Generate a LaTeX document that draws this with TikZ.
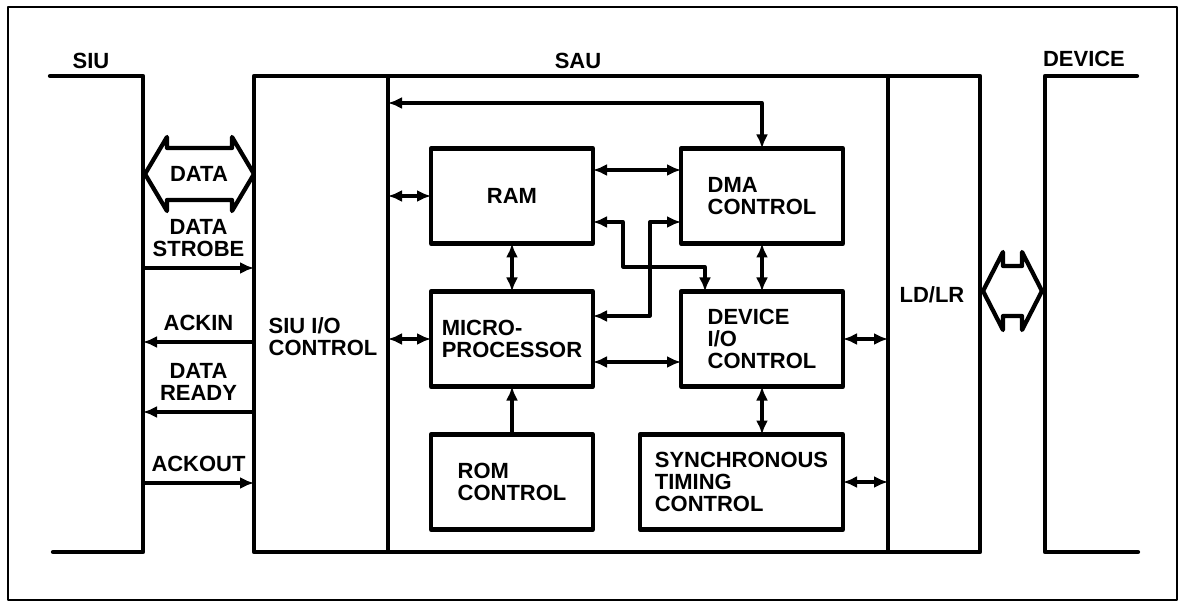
\documentclass[tikz,border=0pt]{standalone}
\usepackage{fontspec}
\setmainfont{Liberation Sans}
\usetikzlibrary{%
  arrows.meta,%
  positioning% wg. " of "
}

\begin{document}
\begin{tikzpicture}[
    x=0.2mm,y=-0.2mm,
    >={Latex[length=2.8mm,width=2.4mm]},
    line join=round,line cap=round,
    font=\fontsize{12.5}{12.5}\selectfont\bfseries,
    frame/.style={line width=0.85mm},
    column/.style={rectangle,draw,frame,inner sep=0pt,outer sep=0pt,
        minimum height=95.2mm},
    block/.style={rectangle,draw,frame,align=left,inner sep=0pt,outer sep=0pt,
        minimum width=32.4mm,minimum height=19mm},
    link/.style={line width=0.65mm,<->},
    signal/.style={line width=0.65mm},
    sig label/.style={align=center,above=0.8mm},
    node distance=9.6mm and 17.6mm
  ]
    \useasboundingbox (0,0) rectangle (1182,603);
    \draw[line width=0.5mm] (8,7) rectangle (1177,600);

    % SIU and DEVICE sides
    \coordinate (siu top)       at (143,76);
    \coordinate (siu bottom)    at (143,552);
    \coordinate (device top)    at (1045,76);
    \coordinate (device bottom) at (1045,552);
    \draw[frame] (siu top) ++(-93,0) -- (siu top) -- (siu bottom) -- ++(-90,0);
    \draw[frame] (device top) ++(92,0) -- (device top) -- (device bottom) -- ++(93,0);
    \node (siu name)    [anchor=base] at (91,69)   {SIU};
    \node (sau name)    [anchor=base] at (578,69)  {SAU};
    \node (device name) [anchor=base] at (1084,67) {DEVICE};

    % SAU columns
    \node[column,minimum width=26.8mm] (siuio) at (321,314) {};
    \node[column,minimum width=100mm,right=0mm of siuio] (core) {};
    \node[column,minimum width=18.4mm,right=0mm of core] (ldlr) {};
    \node[align=left] (siuio label) at (323,337) {SIU I/O\\CONTROL};
    \node (ldlr label) at (932,295) {LD/LR};

    % blocks
    \node[block] (ram) at (512,196) {RAM};
    \node[block,right=of ram] (dma) {DMA\\CONTROL};
    \node[block,below=of ram] (micro) {MICRO-\\PROCESSOR};
    \node[block,below=of dma] (devio) {DEVICE\\I/O\\CONTROL};
    \node[block,below=of micro] (rom) {ROM\\CONTROL};
    \node[block,minimum width=40.6mm,below=of devio.south east,anchor=north east]
        (sync) {SYNCHRONOUS\\TIMING\\CONTROL};

    % SIU interface
    \node (data) at (199,174) {DATA};
    \draw[frame] (data.center) ++(-54,0) -- ++(22,-37) -- ++(0,11) -- ++(65,0)
        -- ++(0,-11) -- ++(22,37) -- ++(-22,37) -- ++(0,-11) -- ++(-65,0)
        -- ++(0,11) -- cycle;
    \draw[signal,->] (siu top |- 0,268) -- node[sig label] {DATA\\STROBE}
        (siuio.west |- 0,268);
    \draw[signal,->] (siuio.west |- 0,342) -- node[sig label] {ACKIN}
        (siu top |- 0,342);
    \draw[signal,->] (siuio.west |- 0,412) -- node[sig label] {DATA\\READY}
        (siu top |- 0,412);
    \draw[signal,->] (siu top |- 0,483) -- node[sig label] {ACKOUT}
        (siuio.west |- 0,483);

    % device interface
    \coordinate (bus) at (1012.5,291);
    \draw[frame] (bus) ++(-29.5,0) -- ++(20,-39) -- ++(0,14) -- ++(19,0)
        -- ++(0,-14) -- ++(20,39) -- ++(-20,39) -- ++(0,-14) -- ++(-19,0)
        -- ++(0,14) -- cycle;

    % internal links
    \coordinate (top bus) at (0,103);
    \coordinate (jog)     at (623,267);
    \coordinate (cross)   at (650,267);
    \draw[link] (core.west |- top bus) -| (dma.north);
    \draw[link] (core.west |- ram.west) -- (ram.west);
    \draw[link] (core.west |- micro.west) -- (micro.west);
    \draw[link] ([yshift=5.2mm]ram.east) -- ([yshift=5.2mm]dma.west);
    \draw[link] ([yshift=-5.2mm]ram.east) -| (jog) -| ([xshift=-11.4mm]devio.north);
    \draw[link] ([yshift=-5.2mm]dma.west) -| (cross) |- ([yshift=4.6mm]micro.east);
    \draw[link] ([yshift=-4.6mm]micro.east) -- ([yshift=-4.6mm]devio.west);
    \draw[link] (ram.south) -- (micro.north);
    \draw[link] (dma.south) -- (devio.north);
    \draw[link,->] (rom.north) -- (micro.south);
    \draw[link] (devio.south) -- (devio.south |- sync.north);
    \draw[link] (devio.east) -- (devio.east -| core.east);
    \draw[link] (sync.east) -- (sync.east -| core.east);
\end{tikzpicture}
\end{document}
